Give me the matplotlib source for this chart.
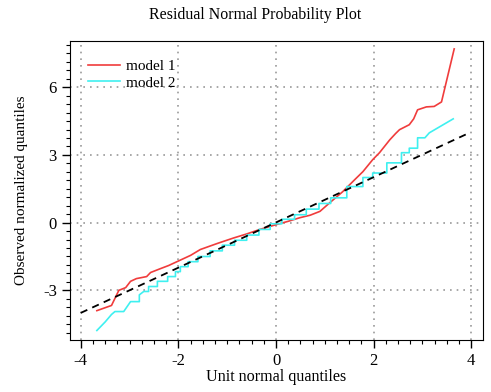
import numpy as np
import matplotlib
matplotlib.use("Agg")
import matplotlib.pyplot as plt
from matplotlib.ticker import MultipleLocator

plt.rcParams['font.family'] = ['Liberation Serif', 'DejaVu Serif']
plt.rcParams['axes.unicode_minus'] = False

# model 1 (red) quantiles
x1 = [-3.67, -3.37, -3.22, -3.08, -2.98, -2.86, -2.65, -2.57, -2.37, -2.2, -2.0,
      -1.75, -1.55, -1.2, -0.87, -0.6, -0.33, 0.0, 0.25, 0.49, 0.7, 0.9, 1.1,
      1.37, 1.61, 1.78, 1.98, 2.12, 2.33, 2.45, 2.53, 2.73, 2.82, 2.9, 3.08,
      3.24, 3.39, 3.65]
y1 = [-3.9, -3.67, -3.0, -2.88, -2.6, -2.48, -2.39, -2.21, -2.04, -1.9, -1.7,
      -1.45, -1.19, -0.92, -0.68, -0.5, -0.3, -0.09, 0.06, 0.22, 0.33, 0.5, 0.88,
      1.38, 1.9, 2.26, 2.79, 3.1, 3.67, 3.95, 4.12, 4.34, 4.6, 5.0, 5.13,
      5.15, 5.35, 7.7]

# model 2 (cyan) quantiles, stepped
x2 = [-3.67, -3.5, -3.37, -3.3, -3.22, -3.12, -2.98, -2.8, -2.8, -2.71, -2.61,
      -2.61, -2.43, -2.43, -2.22, -2.22, -2.06, -2.06, -1.96, -1.96, -1.8, -1.8,
      -1.6, -1.6, -1.35, -1.35, -1.1, -1.1, -0.85, -0.85, -0.6, -0.6, -0.35,
      -0.35, -0.12, -0.12, 0.12, 0.12, 0.38, 0.38, 0.62, 0.62, 0.88, 0.88,
      1.12, 1.12, 1.45, 1.45, 1.78, 1.78, 1.98, 1.98, 2.27, 2.27, 2.57, 2.57,
      2.73, 2.73, 2.9, 2.9, 3.05, 3.14, 3.63]
y2 = [-4.78, -4.4, -4.07, -3.94, -3.94, -3.94, -3.5, -3.5, -3.2, -3.05, -3.05,
      -2.83, -2.83, -2.6, -2.6, -2.39, -2.39, -2.17, -2.17, -1.95, -1.95, -1.73,
      -1.73, -1.5, -1.5, -1.25, -1.25, -1.0, -1.0, -0.78, -0.78, -0.55, -0.55,
      -0.3, -0.3, -0.05, -0.05, 0.15, 0.15, 0.35, 0.35, 0.6, 0.6, 0.85, 0.85,
      1.1, 1.1, 1.6, 1.6, 2.0, 2.0, 2.2, 2.2, 2.65, 2.65, 3.1, 3.1, 3.3, 3.3,
      3.76, 3.76, 3.98, 4.6]

ref_x = [-4.0, 3.9]
ref_y = [-4.0, 3.92]

fig = plt.figure(figsize=(4.91, 3.92), dpi=100)
ax = fig.add_axes([0.1426, 0.1327, 0.8411, 0.7627])

ax.plot(x1, y1, color='#f03c3c', lw=1.2, label='model 1')
ax.plot(x2, y2, color='#3ff0f0', lw=1.2, label='model 2')
ax.plot(ref_x, ref_y, color='black', lw=1.3, ls=(0, (4, 3)))

ax.set_xlim(-4.22, 4.24)
ax.set_ylim(-5.2, 8.05)
ax.xaxis.set_major_locator(MultipleLocator(2))
ax.xaxis.set_minor_locator(MultipleLocator(0.25))
ax.yaxis.set_major_locator(MultipleLocator(3))
ax.yaxis.set_minor_locator(MultipleLocator(0.375))
ax.tick_params(which='major', direction='out', length=6, width=1, labelsize=12)
ax.tick_params(which='minor', direction='out', length=3, width=0.8)
ax.grid(True, which='major', color='#999999', ls=(0, (1, 3)), lw=1.2)

fig.text(0.52, 0.963, 'Residual Normal Probability Plot', fontsize=11.4,
         ha='center', va='center')
ax.set_xlabel('Unit normal quantiles', fontsize=11.6, labelpad=0)
ax.set_ylabel('Observed normalized quantiles', fontsize=11, labelpad=11)
ax.legend(loc='upper left', frameon=False, fontsize=11, handlelength=2.1,
          handletextpad=0.35, labelspacing=0.2, borderaxespad=0.8)

fig.savefig('out.png', dpi=100)
